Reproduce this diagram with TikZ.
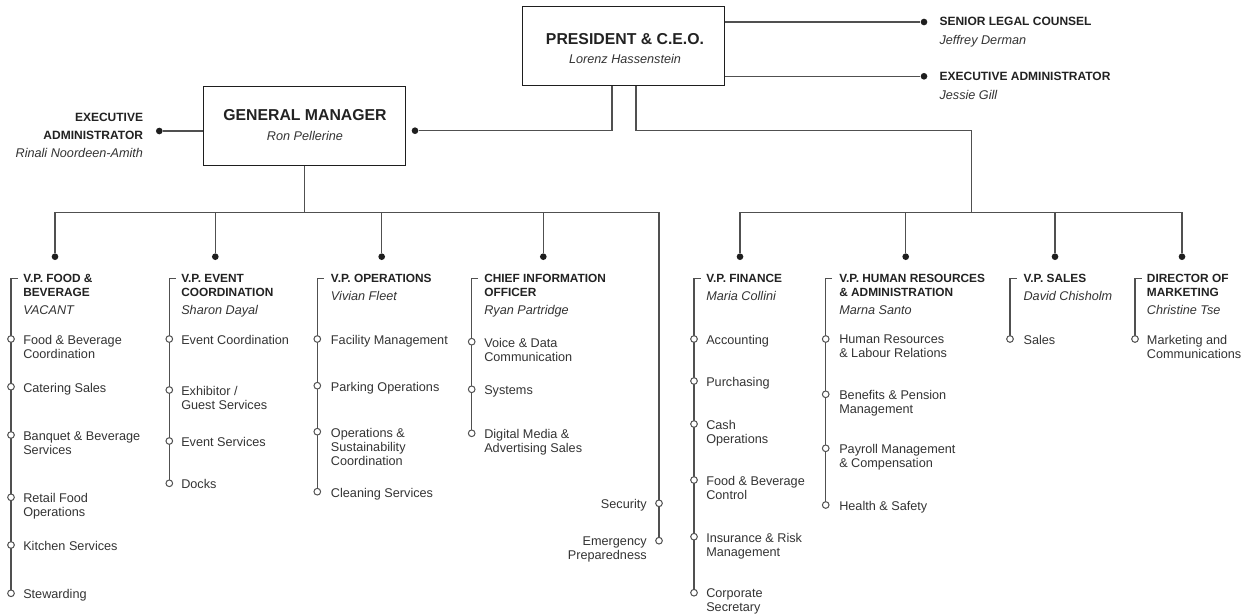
\documentclass[tikz,border=0pt]{standalone}
\usepackage{fontspec}
\setmainfont{Liberation Sans}
\usetikzlibrary{backgrounds}
\definecolor{linec}{HTML}{505050}
\definecolor{dotc}{HTML}{1E1E1E}
\definecolor{txt}{HTML}{222222}
\definecolor{itxt}{HTML}{333333}
\newcommand\OrgItm[5]{\node[odot] (#1o) at (#2,#4) {}; \node[itm] (#1) at (#3,#4-4) {#5};}
\newcommand\OrgHead[6]{%
  \node[ttl] (#1t) at (#3,274.3) {#4};
  \node[nm] (#1n) at (#3,#5) {#6};
  \coordinate (#1top) at (#2,278.3);
  \coordinate (#1tick) at (#2+6.5,278.3);}
\begin{document}
\begin{tikzpicture}[x=0.75pt,y=-0.75pt,
  conn/.style={draw=linec,line width=0.85pt},
  boxc/.style={draw=dotc,line width=0.9pt,rectangle,inner sep=0pt},
  bdot/.style={circle,fill=dotc,inner sep=0pt,minimum size=5pt},
  odot/.style={circle,draw=linec,fill=white,line width=0.75pt,inner sep=0pt,minimum size=5pt},
  ttl/.style={anchor=north west,inner sep=0pt,align=left,text=txt,font=\fontsize{8.9}{10}\selectfont\bfseries},
  sttl/.style={anchor=north west,inner sep=0pt,align=left,text=txt,font=\fontsize{9}{13.5}\selectfont\bfseries},
  nm/.style={anchor=north west,inner sep=0pt,align=left,text=itxt,font=\fontsize{9.5}{10.5}\selectfont\itshape},
  itm/.style={anchor=north west,inner sep=0pt,align=left,text=itxt,font=\fontsize{9.5}{10.5}\selectfont},
  itmr/.style={itm,anchor=north east,align=right},
  bt/.style={anchor=north,inner sep=0pt,text=txt,font=\fontsize{11.85}{14}\selectfont\bfseries},
  bn/.style={anchor=north,inner sep=0pt,text=itxt,font=\fontsize{9.5}{11}\selectfont\itshape},
]
\useasboundingbox (0,0) rectangle (1253,614);

% ---------- top boxes ----------
\node[boxc,minimum width=151.2pt,minimum height=59.25pt] (ceo) at (623.5,46.2) {};
\node[bt] (ceot) at (625,33.3) {PRESIDENT \& C.E.O.};
\node[bn] (ceon) at (625,54.3) {Lorenz Hassenstein};

\node[boxc,minimum width=151.5pt,minimum height=58.95pt] (gm) at (304.3,126) {};
\node[bt] (gmt) at (305,109.3) {GENERAL MANAGER};
\node[bn] (gmn) at (305,130.7) {Ron Pellerine};

% right staff
\node[bdot] (sldot) at (924,22) {};
\node[sttl] (slt) at (939.3,17.3) {SENIOR LEGAL COUNSEL};
\node[nm] (sln) at (939.3,35) {Jeffrey Derman};
\node[bdot] (eadot) at (924,76.3) {};
\node[sttl] (eat) at (939.3,72.3) {EXECUTIVE ADMINISTRATOR};
\node[nm] (ean) at (939.3,90) {Jessie Gill};

% left staff
\node[bdot] (gadot) at (159.3,131) {};
\node[sttl,anchor=north east,align=right] (gat) at (143.3,112.7) {EXECUTIVE\\ADMINISTRATOR};
\node[nm,anchor=north east] (gan) at (143.3,148.3) {Rinali Noordeen-Amith};

\node[bdot] (gmdot) at (415,130.7) {};

% bus coordinates
\coordinate (lb1) at (55,212.3);
\coordinate (lb2) at (215.3,212.3);
\coordinate (lb3) at (381.7,212.3);
\coordinate (lb4) at (543.3,212.3);
\coordinate (lb5) at (659,212.3);
\coordinate (rb1) at (740,212.3);
\coordinate (rb2) at (905.7,212.3);
\coordinate (rb3) at (1055,212.3);
\coordinate (rb4) at (1182,212.3);
\coordinate (rturn) at (971.3,130.7);
\coordinate (rdrop) at (971.3,212.3);

\node[bdot] (d1) at (55,256.7) {};
\node[bdot] (d2) at (215.3,256.7) {};
\node[bdot] (d3) at (381.7,256.7) {};
\node[bdot] (d4) at (543.3,256.7) {};
\node[bdot] (d6) at (740,256.7) {};
\node[bdot] (d7) at (905.7,256.7) {};
\node[bdot] (d8) at (1055,256.7) {};
\node[bdot] (d9) at (1182,256.7) {};

% ---------- columns ----------
% Food & Beverage
\OrgHead{c1}{11}{23}{V.P. FOOD \&\\BEVERAGE}{305}{VACANT}
\OrgItm{c1a}{11}{23}{339}{Food \& Beverage\\Coordination}
\OrgItm{c1b}{11}{23}{386.7}{Catering Sales}
\OrgItm{c1c}{11}{23}{435}{Banquet \& Beverage\\Services}
\OrgItm{c1d}{11}{23}{497.3}{Retail Food\\Operations}
\OrgItm{c1e}{11}{23}{545}{Kitchen Services}
\OrgItm{c1f}{11}{23}{593.3}{Stewarding}

% Event
\OrgHead{c2}{169.3}{181}{V.P. EVENT\\COORDINATION}{305}{Sharon Dayal}
\OrgItm{c2a}{169.3}{181}{339}{Event Coordination}
\OrgItm{c2b}{169.3}{181}{390}{Exhibitor /\\Guest Services}
\OrgItm{c2c}{169.3}{181}{441}{Event Services}
\OrgItm{c2d}{169.3}{181}{483.3}{Docks}

% Operations
\OrgHead{c3}{317.3}{330.7}{V.P. OPERATIONS}{291.3}{Vivian Fleet}
\OrgItm{c3a}{317.3}{330.7}{339}{Facility Management}
\OrgItm{c3b}{317.3}{330.7}{385.7}{Parking Operations}
\OrgItm{c3c}{317.3}{330.7}{431.7}{Operations \&\\Sustainability\\Coordination}
\OrgItm{c3d}{317.3}{330.7}{491.7}{Cleaning Services}

% CIO
\OrgHead{c4}{471.7}{484}{CHIEF INFORMATION\\OFFICER}{305}{Ryan Partridge}
\OrgItm{c4a}{471.7}{484}{341.7}{Voice \& Data\\Communication}
\OrgItm{c4b}{471.7}{484}{389.3}{Systems}
\OrgItm{c4c}{471.7}{484}{433.3}{Digital Media \&\\Advertising Sales}

% Security
\node[odot] (c5ao) at (659,503.3) {};
\node[itmr] (c5a) at (647,499.3) {Security};
\node[odot] (c5bo) at (659,540.7) {};
\node[itmr] (c5b) at (647,536.7) {Emergency\\Preparedness};

% Finance
\OrgHead{c6}{694}{706}{V.P. FINANCE}{291.3}{Maria Collini}
\OrgItm{c6a}{694}{706}{339}{Accounting}
\OrgItm{c6b}{694}{706}{381}{Purchasing}
\OrgItm{c6c}{694}{706}{424}{Cash\\Operations}
\OrgItm{c6d}{694}{706}{480}{Food \& Beverage\\Control}
\OrgItm{c6e}{694}{706}{536.7}{Insurance \& Risk\\Management}
\OrgItm{c6f}{694}{706}{592.7}{Corporate\\Secretary}

% HR
\OrgHead{c7}{825.7}{839}{V.P. HUMAN RESOURCES\\\& ADMINISTRATION}{305}{Marna Santo}
\OrgItm{c7a}{825.7}{839}{339}{Human Resources\\\& Labour Relations}
\OrgItm{c7b}{825.7}{839}{394.3}{Benefits \& Pension\\Management}
\OrgItm{c7c}{825.7}{839}{448.3}{Payroll Management\\\& Compensation}
\OrgItm{c7d}{825.7}{839}{505}{Health \& Safety}

% Sales
\OrgHead{c8}{1010}{1023.3}{V.P. SALES}{291.3}{David Chisholm}
\OrgItm{c8a}{1010}{1023.3}{339}{Sales}

% Marketing
\OrgHead{c9}{1135}{1146.7}{DIRECTOR OF\\MARKETING}{305}{Christine Tse}
\OrgItm{c9a}{1135}{1146.7}{339}{Marketing and\\Communications}

% ---------- connectors ----------
\begin{scope}[on background layer]
\draw[conn] (ceo.east |- sldot) -- (sldot);
\draw[conn] (ceo.east |- eadot) -- (eadot);
\draw[conn] (gm.west |- gadot) -- (gadot);
\draw[conn] ([xshift=-8.6pt]ceo.south) |- (gmdot);
\draw[conn] ([xshift=9.4pt]ceo.south) |- (rturn) -- (rdrop);
\draw[conn] (gm.south) -- (gm.south |- lb1);
\draw[conn] (lb1) -- (lb5);
\draw[conn] (rb1) -- (rb4);
\draw[conn] (lb1) -- (d1);
\draw[conn] (lb2) -- (d2);
\draw[conn] (lb3) -- (d3);
\draw[conn] (lb4) -- (d4);
\draw[conn] (rb1) -- (d6);
\draw[conn] (rb2) -- (d7);
\draw[conn] (rb3) -- (d8);
\draw[conn] (rb4) -- (d9);
\draw[conn] (lb5) -- (c5bo.center);
\draw[conn] (c1tick) -- (c1top) -- (c1fo.center);
\draw[conn] (c2tick) -- (c2top) -- (c2do.center);
\draw[conn] (c3tick) -- (c3top) -- (c3do.center);
\draw[conn] (c4tick) -- (c4top) -- (c4co.center);
\draw[conn] (c6tick) -- (c6top) -- (c6fo.center);
\draw[conn] (c7tick) -- (c7top) -- (c7do.center);
\draw[conn] (c8tick) -- (c8top) -- (c8ao.center);
\draw[conn] (c9tick) -- (c9top) -- (c9ao.center);
\end{scope}
\end{tikzpicture}
\end{document}
